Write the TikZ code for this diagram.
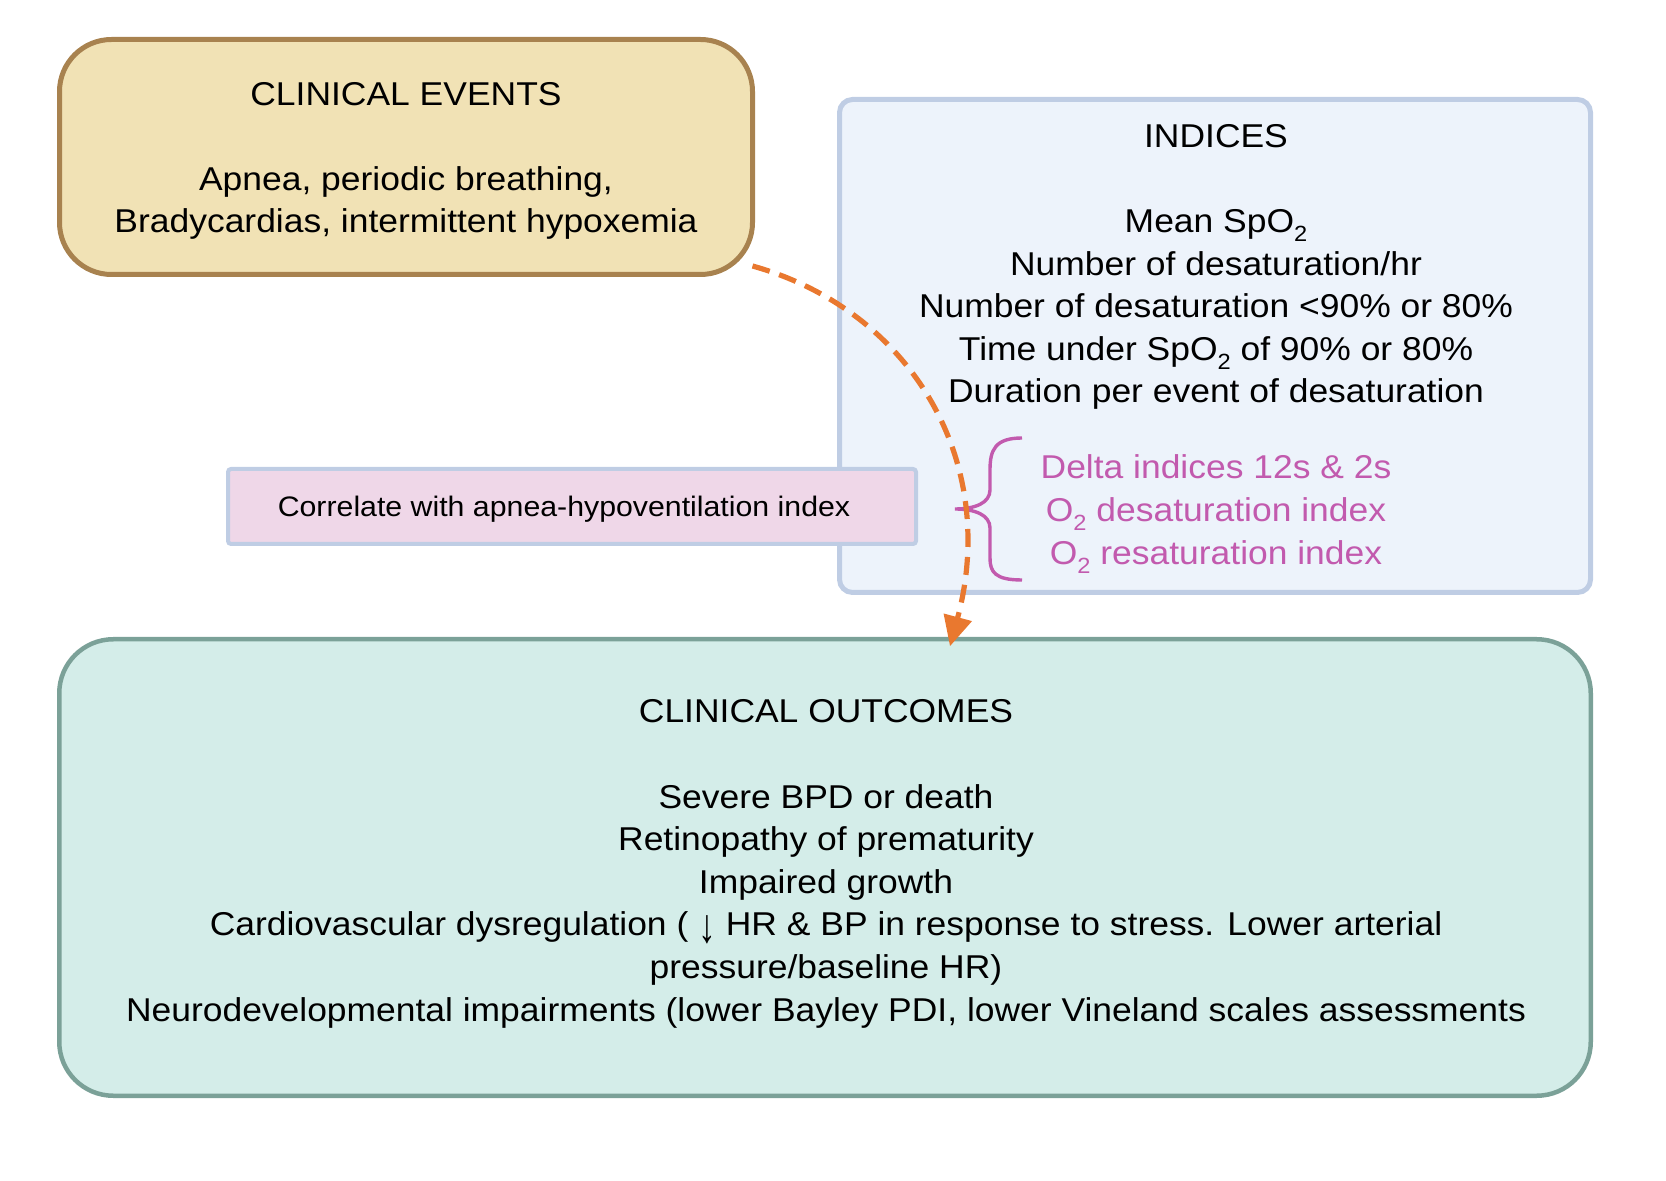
\documentclass[tikz,border=0pt]{standalone}
\usepackage{fontspec}
\usepackage{graphicx}
\setmainfont{Liberation Sans}[FakeStretch=1.074]
\usetikzlibrary{arrows.meta,calc}
\definecolor{ceFill}{HTML}{F1E2B5}
\definecolor{ceLine}{HTML}{A8824F}
\definecolor{idxFill}{HTML}{EDF3FB}
\definecolor{idxLine}{HTML}{BFCDE4}
\definecolor{corFill}{HTML}{EFD7E8}
\definecolor{ocFill}{HTML}{D4EDE9}
\definecolor{ocLine}{HTML}{7BA198}
\definecolor{pinkTxt}{HTML}{C25AAE}
\definecolor{arrOrange}{HTML}{E9782F}
\newcommand{\subtwo}{\raisebox{-4.5pt}{\fontsize{11pt}{11pt}\selectfont 2}}
\newcommand{\tallDown}{\raisebox{-3.5pt}{\scalebox{1}[1.45]{↓}}}
\begin{document}
\begin{tikzpicture}[x=0.5pt,y=-0.5pt,
  every node/.style={inner sep=0pt, outer sep=0pt, text=black},
  mainfont/.style={font=\fontsize{16.5pt}{21.3pt}\selectfont},
  cebox/.style={draw=ceLine, fill=ceFill, line width=2.5pt, rounded corners=26pt},
  idxbox/.style={draw=idxLine, fill=idxFill, line width=2.5pt, rounded corners=6.5pt},
  corbox/.style={draw=idxLine, fill=corFill, line width=2pt, rounded corners=1.5pt},
  ocbox/.style={draw=ocLine, fill=ocFill, line width=2.25pt, rounded corners=27pt},
  bracestyle/.style={draw=pinkTxt, line width=1.7pt},
  flow/.style={draw=arrOrange, line width=2.6pt, dash pattern=on 9pt off 5pt,
    -{Triangle[length=15pt,width=14pt]}}
]
\useasboundingbox (0,0) rectangle (1666,1181);

% indices box
\node[idxbox, minimum width=375.5pt, minimum height=246.5pt] (idx) at (1215,346) {};
\node[mainfont, align=center] (idxtxt) at (1216,267) {INDICES\\[21.3pt]Mean SpO\subtwo\\Number of desaturation/hr\\Number of desaturation <90\% or 80\%\\Time under SpO\subtwo{} of 90\% or 80\%\\Duration per event of desaturation};

% clinical events
\node[cebox, minimum width=346.5pt, minimum height=117.5pt] (ce) at (406,157) {};
\node[mainfont, align=center] (cetxt) at (406,161)
  {CLINICAL EVENTS\\[21.3pt]Apnea, periodic breathing,\\Bradycardias, intermittent hypoxemia};

% correlate box
\node[corbox, minimum width=344pt, minimum height=37.5pt] (cor) at (572,506.5) {};
\node[font=\fontsize{14.1pt}{17pt}\selectfont] (cortxt) at (564,509) {Correlate with apnea-hypoventilation index};

% pink indices and brace
\node[mainfont, align=center, text=pinkTxt] (pinktxt) at (1216,514) {Delta indices 12s \& 2s\\O\subtwo{} desaturation index\\O\subtwo{} resaturation index};
\draw[bracestyle] (1022,438) .. controls (995,438) and (990,450) .. (990,470) -- (990,490)
  .. controls (990,503) and (975,509) .. (955,509)
  .. controls (975,509) and (990,515) .. (990,528) -- (990,558)
  .. controls (990,572) and (995,580) .. (1022,580);

% outcomes
\node[ocbox, minimum width=765.75pt, minimum height=228.25pt] (oc) at (825,867.5) {};
\node[mainfont, align=center] (octxt) at (826,864) {CLINICAL OUTCOMES\\[21.3pt]Severe BPD or death\\Retinopathy of prematurity\\Impaired growth\\Cardiovascular dysregulation ( \tallDown{} HR \& BP in response to stress. Lower arterial\\pressure/baseline HR)\\Neurodevelopmental impairments (lower Bayley PDI, lower Vineland scales assessments};

% arrow
\coordinate (aS) at ($(ce.south east)+(0,-8.5)$);
\coordinate (aE) at ($(oc.north)+(125,7)$);
\draw[flow] (aS) .. controls (910,310) and (1000,460) .. (aE);
\end{tikzpicture}
\end{document}
